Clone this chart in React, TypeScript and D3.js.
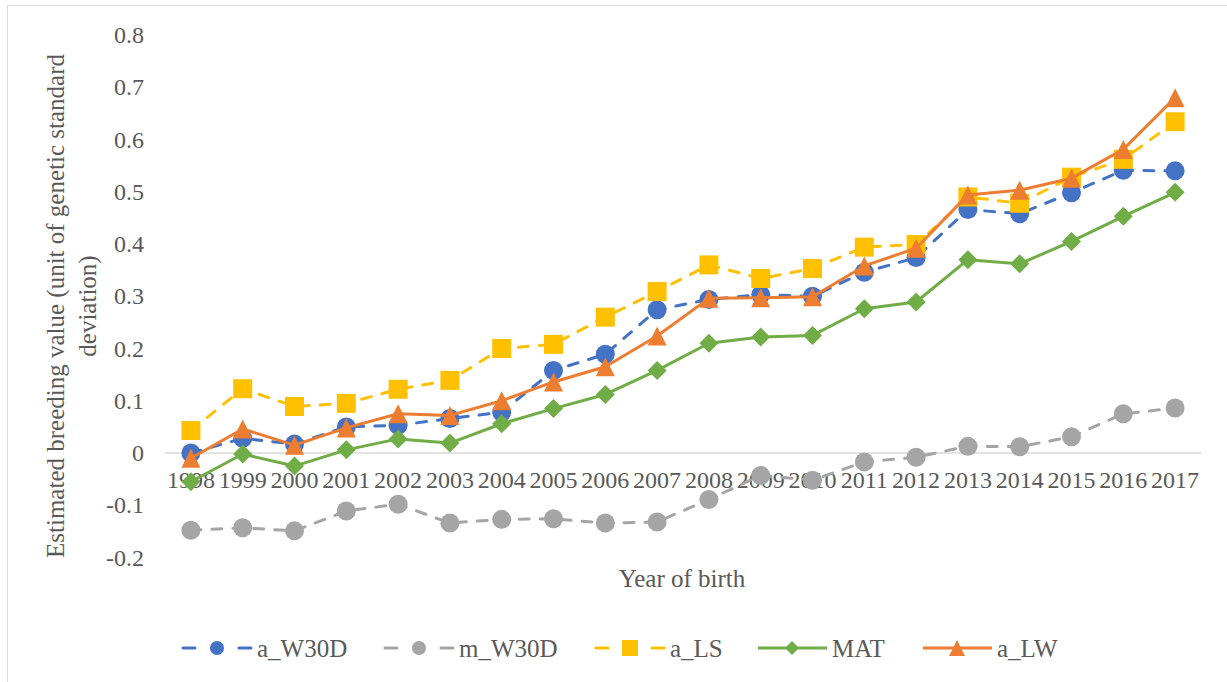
import React from "react";
import * as d3 from "d3";

const years = [
  "1998", "1999", "2000", "2001", "2002", "2003", "2004", "2005", "2006", "2007",
  "2008", "2009", "2010", "2011", "2012", "2013", "2014", "2015", "2016", "2017",
];
const aW30D = [0.0, 0.028, 0.017, 0.05, 0.053, 0.066, 0.078, 0.158, 0.189, 0.274, 0.294, 0.303, 0.3, 0.346, 0.374, 0.466, 0.458, 0.498, 0.541, 0.54];
const mW30D = [-0.148, -0.143, -0.149, -0.111, -0.098, -0.134, -0.127, -0.126, -0.134, -0.132, -0.089, -0.043, -0.052, -0.017, -0.008, 0.013, 0.012, 0.031, 0.075, 0.086];
const aLS = [0.043, 0.123, 0.089, 0.095, 0.122, 0.139, 0.2, 0.208, 0.26, 0.309, 0.36, 0.334, 0.353, 0.394, 0.399, 0.49, 0.478, 0.528, 0.562, 0.634];
const MAT = [-0.055, -0.002, -0.025, 0.006, 0.027, 0.019, 0.056, 0.085, 0.112, 0.158, 0.21, 0.222, 0.225, 0.276, 0.289, 0.37, 0.362, 0.405, 0.453, 0.499];
const aLW = [-0.01, 0.046, 0.015, 0.048, 0.075, 0.072, 0.1, 0.136, 0.165, 0.224, 0.296, 0.297, 0.299, 0.358, 0.392, 0.494, 0.503, 0.526, 0.581, 0.68];
const yTicks = [-0.2, -0.1, 0, 0.1, 0.2, 0.3, 0.4, 0.5, 0.6, 0.7, 0.8];

const series = [
  { name: "a_W30D", values: aW30D, color: "#4472C4", dashed: true, marker: "circle" },
  { name: "m_W30D", values: mW30D, color: "#A5A5A5", dashed: true, marker: "circle" },
  { name: "a_LS", values: aLS, color: "#FFC000", dashed: true, marker: "square" },
  { name: "MAT", values: MAT, color: "#70AD47", dashed: false, marker: "diamond" },
  { name: "a_LW", values: aLW, color: "#ED7D31", dashed: false, marker: "triangle" },
];

// legend sample positions (start of the line sample)
const legendX = [183, 385, 596, 758, 923];

const W = 1227;
const H = 682;
const font = "'Liberation Serif', 'Times New Roman', serif";
const textColor = "#595959";

function markerPath(kind: string, r: number) {
  if (kind === "circle") return d3.symbol().type(d3.symbolCircle).size(Math.PI * r * r)() as string;
  if (kind === "square") return `M${-r},${-r}H${r}V${r}H${-r}Z`;
  if (kind === "diamond") return `M0,${-r}L${r},0L0,${r}L${-r},0Z`;
  return `M0,${-r}L${r},${r}L${-r},${r}Z`;
}

export default function App() {
  const x = d3.scaleBand().domain(years).range([165, 1201]);
  const y = d3.scaleLinear().domain([-0.2, 0.8]).range([557.5, 35]);
  const cx = (yr: string) => (x(yr) as number) + x.bandwidth() / 2;
  const line = d3
    .line<number>()
    .x((_, i) => cx(years[i]))
    .y((d) => y(d));

  return (
    <svg
      width={W}
      height={H}
      style={{ position: "absolute", left: 0, top: 0, background: "#fff" }}
      fontFamily={font}
    >
      <rect x={7.5} y={5.5} width={1240} height={700} fill="#fff" stroke="#D9D9D9" strokeWidth={1} />

      {/* y tick labels */}
      {yTicks.map((t) => (
        <text key={t} x={144} y={y(t)} dy="0.34em" textAnchor="end" fontSize={24} fill={textColor}>
          {t === 0 ? "0" : t.toFixed(1)}
        </text>
      ))}

      {/* zero line */}
      <line x1={165} x2={1201} y1={y(0)} y2={y(0)} stroke="#D9D9D9" strokeWidth={1.5} />

      {/* x tick labels */}
      {years.map((yr) => (
        <text key={yr} x={cx(yr)} y={488} textAnchor="middle" fontSize={24} fill={textColor}>
          {yr}
        </text>
      ))}

      {/* axis titles */}
      <text
        transform={`translate(64,306) rotate(-90)`}
        textAnchor="middle"
        fontSize={25}
        fill={textColor}
      >
        Estimated breeding value (unit of genetic standard
      </text>
      <text transform={`translate(96,306) rotate(-90)`} textAnchor="middle" fontSize={25} fill={textColor}>
        deviation)
      </text>
      <text x={682} y={587} textAnchor="middle" fontSize={25} fill={textColor}>
        Year of birth
      </text>

      {/* series */}
      {series.map((s) => (
        <g key={s.name}>
          <path
            d={line(s.values) as string}
            fill="none"
            stroke={s.color}
            strokeWidth={3}
            strokeLinejoin="round"
            strokeLinecap={s.dashed ? "round" : "butt"}
            strokeDasharray={s.dashed ? "10 11" : undefined}
          />
          {s.values.map((v, i) => (
            <path
              key={i}
              d={markerPath(s.marker, s.marker === "circle" ? 9.5 : s.marker === "square" ? 9.5 : 9.5)}
              transform={`translate(${cx(years[i])},${y(v)})`}
              fill={s.color}
            />
          ))}
        </g>
      ))}

      {/* legend */}
      {series.map((s, i) => {
        const x0 = legendX[i];
        const mid = x0 + 34;
        const ly = 648;
        return (
          <g key={s.name}>
            {s.dashed ? (
              <>
                <line x1={x0} x2={x0 + 12} y1={ly} y2={ly} stroke={s.color} strokeWidth={3} strokeLinecap="round" />
                <line x1={x0 + 56} x2={x0 + 68} y1={ly} y2={ly} stroke={s.color} strokeWidth={3} strokeLinecap="round" />
              </>
            ) : (
              <line x1={x0} x2={x0 + 69} y1={ly} y2={ly} stroke={s.color} strokeWidth={3} />
            )}
            <path
              d={markerPath(s.marker, s.marker === "circle" ? 7 : s.marker === "square" ? 8 : s.marker === "diamond" ? 7 : 8)}
              transform={`translate(${mid},${ly})`}
              fill={s.color}
            />
            <text x={x0 + 74} y={ly + 8.5} fontSize={25} fill={textColor}>
              {s.name}
            </text>
          </g>
        );
      })}
    </svg>
  );
}
